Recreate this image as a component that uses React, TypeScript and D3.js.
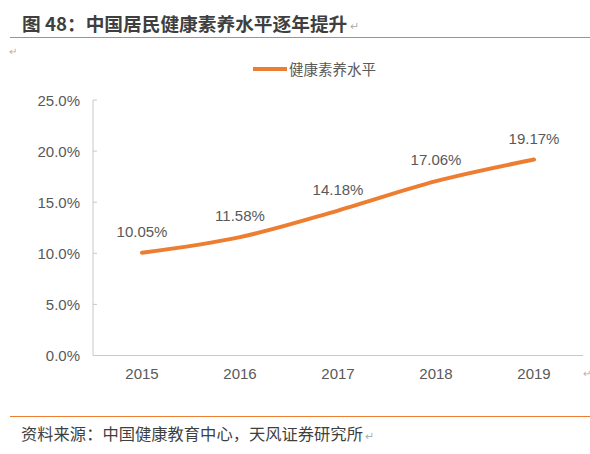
import React, { useEffect, useRef } from "react";
import * as d3 from "d3";

const title = "图 48：中国居民健康素养水平逐年提升";
const source = "资料来源：中国健康教育中心，天风证券研究所";
const seriesName = "健康素养水平";
const years = ["2015", "2016", "2017", "2018", "2019"];
const values = [10.05, 11.58, 14.18, 17.06, 19.17];
const yTicks = [0, 5, 10, 15, 20, 25];

const W = 590;
const H = 454;
const ORANGE = "#ED7D31";
const TEXT = "#595959";
const FONT = "'Liberation Sans', Arial, 'Noto Sans CJK SC', sans-serif";
const CJK = "'Noto Sans CJK SC', 'Liberation Sans', sans-serif";

export default function App() {
  const ref = useRef<SVGSVGElement>(null);

  useEffect(() => {
    const svg = d3.select(ref.current);
    svg.selectAll("*").remove();

    const left = 93, right = 583, top = 100, bottom = 355.5;
    const x = d3.scaleBand().domain(years).range([left, right]);
    const y = d3.scaleLinear().domain([0, 25]).range([bottom, top]);

    // title: size chosen so its natural width matches the reference (~323px)
    const titleNode = svg.append("text").attr("x", 22).attr("y", 30.5).attr("font-family", CJK)
      .attr("font-size", 18.7).attr("font-weight", "bold").attr("fill", "#3f3f3f").text(title);
    const tw = (titleNode.node() as SVGTextElement).getComputedTextLength();
    svg.append("text").attr("x", 22 + tw + 3).attr("y", 30).attr("font-family", FONT)
      .attr("font-size", 11).attr("fill", "#b0b0b0").text("↵");
    svg.append("line").attr("x1", 10).attr("x2", W).attr("y1", 37.5).attr("y2", 37.5)
      .attr("stroke", ORANGE).attr("stroke-width", 1.2);
    svg.append("text").attr("x", 9).attr("y", 55).attr("font-family", FONT)
      .attr("font-size", 10).attr("fill", "#b0b0b0").text("↵");

    // legend
    svg.append("line").attr("x1", 253).attr("x2", 287).attr("y1", 69).attr("y2", 69)
      .attr("stroke", ORANGE).attr("stroke-width", 4);
    svg.append("text").attr("x", 289).attr("y", 74.5).attr("font-family", CJK)
      .attr("font-size", 14.5).attr("fill", TEXT).text(seriesName);

    // y axis
    svg.append("line").attr("x1", left).attr("x2", left).attr("y1", top).attr("y2", bottom)
      .attr("stroke", "#c8c8c8").attr("stroke-width", 1);
    yTicks.forEach((tk) => {
      svg.append("line").attr("x1", left).attr("x2", left + 4).attr("y1", y(tk)).attr("y2", y(tk))
        .attr("stroke", "#c8c8c8").attr("stroke-width", 1);
      svg.append("text").attr("x", 80).attr("y", y(tk) + 5.5).attr("text-anchor", "end")
        .attr("font-family", FONT).attr("font-size", 15).attr("fill", TEXT)
        .text(tk.toFixed(1) + "%");
    });

    // x axis
    svg.append("line").attr("x1", left).attr("x2", right).attr("y1", bottom).attr("y2", bottom)
      .attr("stroke", "#c8c8c8").attr("stroke-width", 1);
    years.forEach((yr) => {
      svg.append("text").attr("x", (x(yr) as number) + x.bandwidth() / 2).attr("y", 379)
        .attr("text-anchor", "middle").attr("font-family", FONT).attr("font-size", 15)
        .attr("fill", TEXT).text(yr);
    });
    svg.append("text").attr("x", 583).attr("y", 377).attr("font-family", FONT)
      .attr("font-size", 10).attr("fill", "#b0b0b0").text("↵");

    // line
    const pts: [number, number][] = years.map((yr, i) => [
      (x(yr) as number) + x.bandwidth() / 2,
      y(values[i]),
    ]);
    const line = d3.line().curve(d3.curveCardinal.tension(0));
    svg.append("path").attr("d", line(pts)).attr("fill", "none")
      .attr("stroke", ORANGE).attr("stroke-width", 4).attr("stroke-linecap", "round");

    // data labels
    pts.forEach(([px, py], i) => {
      svg.append("text").attr("x", px).attr("y", py - 16).attr("text-anchor", "middle")
        .attr("font-family", FONT).attr("font-size", 15).attr("fill", TEXT)
        .text(values[i].toFixed(2) + "%");
    });

    // footer
    svg.append("line").attr("x1", 10).attr("x2", W).attr("y1", 416.5).attr("y2", 416.5)
      .attr("stroke", ORANGE).attr("stroke-width", 1.2);
    const srcNode = svg.append("text").attr("x", 21).attr("y", 440).attr("font-family", CJK)
      .attr("font-size", 16.3).attr("fill", "#3f3f3f").text(source);
    const sw = (srcNode.node() as SVGTextElement).getComputedTextLength();
    svg.append("text").attr("x", 21 + sw + 2).attr("y", 440).attr("font-family", FONT)
      .attr("font-size", 11).attr("fill", "#b0b0b0").text("↵");
  }, []);

  return (
    <svg
      ref={ref}
      width={W}
      height={H}
      style={{ position: "absolute", left: 0, top: 0, background: "#fff" }}
    />
  );
}
